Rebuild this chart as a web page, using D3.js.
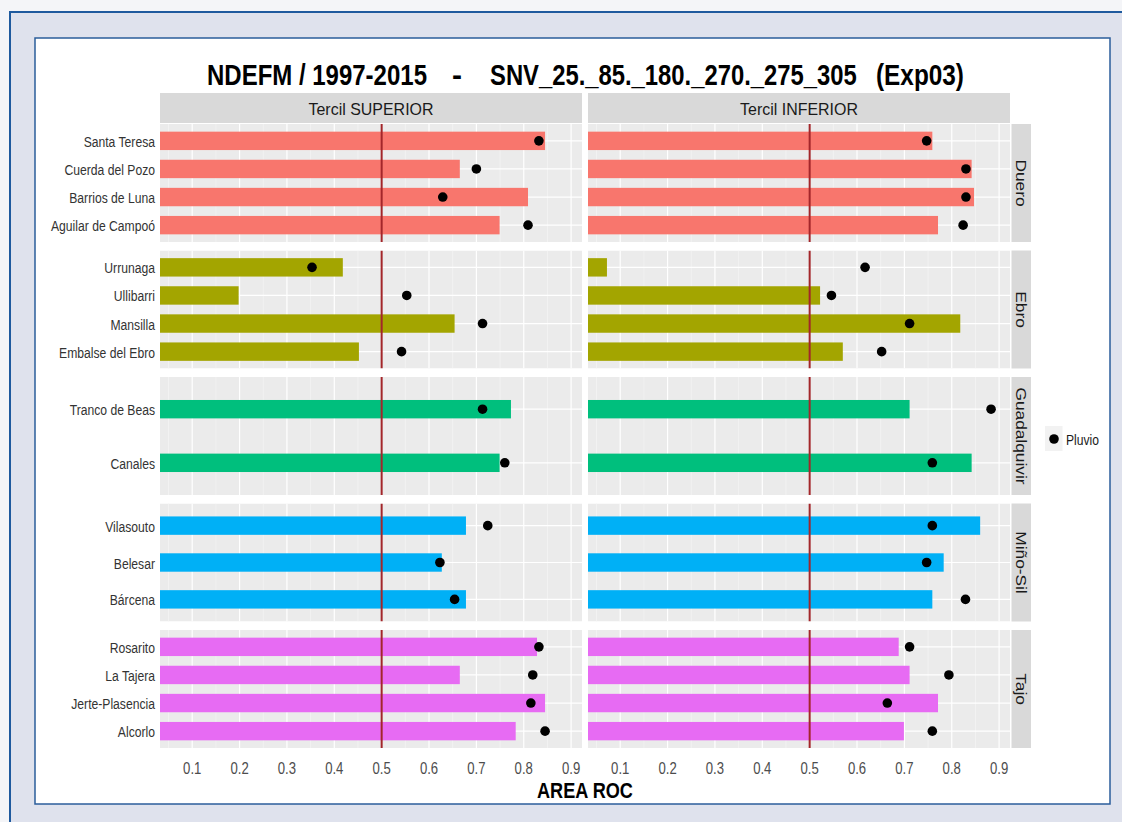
<!DOCTYPE html>
<html>
<head>
<meta charset="utf-8">
<script src="https://cdn.jsdelivr.net/npm/d3@7"></script>
<style>
  body { margin: 0; background: #fff; }
  svg text { font-family: "Liberation Sans", Arial, sans-serif; }
</style>
</head>
<body>
<svg id="chart" width="1122" height="822"></svg>
<script>
// ---- data ----
const basins = ['Duero', 'Ebro', 'Guadalquivir', 'Miño-Sil', 'Tajo']
const terciles = ['Tercil SUPERIOR', 'Tercil INFERIOR']
const stations = ['Santa Teresa', 'Cuerda del Pozo', 'Barrios de Luna', 'Aguilar de Campoó',
  'Urrunaga', 'Ullibarri', 'Mansilla', 'Embalse del Ebro',
  'Tranco de Beas', 'Canales',
  'Vilasouto', 'Belesar', 'Bárcena',
  'Rosarito', 'La Tajera', 'Jerte-Plasencia', 'Alcorlo']
const stationBasin = ['Duero', 'Duero', 'Duero', 'Duero',
  'Ebro', 'Ebro', 'Ebro', 'Ebro',
  'Guadalquivir', 'Guadalquivir',
  'Miño-Sil', 'Miño-Sil', 'Miño-Sil',
  'Tajo', 'Tajo', 'Tajo', 'Tajo']
// AREA ROC of the model (bars) and of the rain gauge "Pluvio" (dots)
const rocSup = [0.845, 0.665, 0.809, 0.749, 0.418, 0.198, 0.654, 0.452, 0.773, 0.749, 0.678, 0.627, 0.678, 0.828, 0.665, 0.845, 0.783]
const pluvioSup = [0.832, 0.700, 0.629, 0.809, 0.353, 0.553, 0.713, 0.542, 0.713, 0.760, 0.724, 0.623, 0.654, 0.832, 0.819, 0.815, 0.845]
const rocInf = [0.759, 0.842, 0.847, 0.771, 0.072, 0.522, 0.818, 0.570, 0.711, 0.842, 0.860, 0.783, 0.759, 0.688, 0.711, 0.771, 0.699]
const pluvioInf = [0.747, 0.830, 0.830, 0.824, 0.617, 0.546, 0.711, 0.652, 0.883, 0.759, 0.759, 0.747, 0.829, 0.711, 0.794, 0.664, 0.759]
const xTicks = [0.1, 0.2, 0.3, 0.4, 0.5, 0.6, 0.7, 0.8, 0.9]
const xMinor = [0.05, 0.15, 0.25, 0.35, 0.45, 0.55, 0.65, 0.75, 0.85]
const basinColors = ['#F8766D', '#A3A500', '#00BF7D', '#00B0F6', '#E76BF3']
const titleParts = ['NDEFM / 1997-2015', '-', 'SNV_25._85._180._270._275_305', '(Exp03)']

const svg = d3.select('#chart')

//squeeze a text selection horizontally, like a narrow font
function condense(sel, k) {
  sel.each(function () {
    let w = this.getComputedTextLength()
    d3.select(this).attr('textLength', w * k).attr('lengthAdjust', 'spacingAndGlyphs')
  })
}
function fitWidth(sel, target) {
  let w = sel.node().getComputedTextLength()
  sel.attr('textLength', target).attr('lengthAdjust', 'spacingAndGlyphs')
  return target / w
}
//narrow text made by shrinking the font and stretching it back up
function narrowText(parent, str, x, y, size, width, weight) {
  let t = parent.append('text')
    .attr('dominant-baseline', 'central')
    .attr('font-size', size).attr('font-weight', weight).attr('fill', '#000')
    .text(str)
  let w = t.node().getComputedTextLength()
  let s = size * width / w
  t.attr('font-size', s)
    .attr('transform', 'translate(' + x + ',' + y + ') scale(1,' + (size / s) + ')')
  return t
}

// page frame
svg.append('rect').attr('x', 0).attr('y', 0).attr('width', 1122).attr('height', 822).attr('fill', '#f4f5f8')
svg.append('rect').attr('x', 10).attr('y', 12).attr('width', 1130).attr('height', 830)
  .attr('fill', '#dfe2ed').attr('stroke', '#1f5a9e').attr('stroke-width', 2)
svg.append('rect').attr('x', 35).attr('y', 38).attr('width', 1075).attr('height', 766)
  .attr('fill', '#ffffff').attr('stroke', '#2b5d9b').attr('stroke-width', 1.5)

// layout
const panelX = [[160, 582], [588, 1010]]
const panelTop = 124, panelH = 118, panelGap = 8.5
const stripTop = 93, stripH = 30
const stripRight = [1011.5, 1031]
const domain = [0.032, 0.923]

const color = d3.scaleOrdinal().domain(basins).range(basinColors)

const rows = stations.map((s, i) => ({
  name: s, basin: stationBasin[i],
  vals: [rocSup[i], rocInf[i]], pluvio: [pluvioSup[i], pluvioInf[i]]
}))

const defs = svg.append('defs')
const plotLayer = svg.append('g')
const yLabels = svg.append('g')
const stripLabels = svg.append('g')
const xLabels = svg.append('g')

terciles.forEach(function (terc, c) {
  let x = d3.scaleLinear().domain(domain).range(panelX[c])

  // top strip
  plotLayer.append('rect')
    .attr('x', panelX[c][0]).attr('y', stripTop)
    .attr('width', panelX[c][1] - panelX[c][0]).attr('height', stripH)
    .attr('fill', '#d9d9d9')
  stripLabels.append('text')
    .attr('class', 'tstrip')
    .attr('x', (panelX[c][0] + panelX[c][1]) / 2).attr('y', stripTop + stripH / 2 + 1)
    .attr('text-anchor', 'middle').attr('dominant-baseline', 'central')
    .attr('font-size', 17).attr('fill', '#1a1a1a')
    .text(terc)

  basins.forEach(function (b, r) {
    let top = panelTop + r * (panelH + panelGap)
    let sub = rows.filter(d => d.basin == b)
    let y = d3.scalePoint().domain(sub.map(d => d.name)).range([top, top + panelH]).padding(0.6)

    let clipId = 'clip' + c + '_' + r
    defs.append('clipPath').attr('id', clipId)
      .append('rect').attr('x', panelX[c][0]).attr('y', top)
      .attr('width', panelX[c][1] - panelX[c][0]).attr('height', panelH)

    let g = plotLayer.append('g').attr('clip-path', 'url(#' + clipId + ')')

    g.append('rect')
      .attr('x', panelX[c][0]).attr('y', top)
      .attr('width', panelX[c][1] - panelX[c][0]).attr('height', panelH)
      .attr('fill', '#ebebeb')

    // grid
    g.selectAll('.minor').data(xMinor).enter().append('line')
      .attr('x1', d => x(d)).attr('x2', d => x(d)).attr('y1', top).attr('y2', top + panelH)
      .attr('stroke', '#f7f7f7').attr('stroke-width', 0.6)
    g.selectAll('.major').data(xTicks).enter().append('line')
      .attr('x1', d => x(d)).attr('x2', d => x(d)).attr('y1', top).attr('y2', top + panelH)
      .attr('stroke', '#ffffff').attr('stroke-width', 1.2)
    g.selectAll('.hgrid').data(sub).enter().append('line')
      .attr('x1', panelX[c][0]).attr('x2', panelX[c][1])
      .attr('y1', d => y(d.name)).attr('y2', d => y(d.name))
      .attr('stroke', '#ffffff').attr('stroke-width', 1.2)

    // bars
    g.selectAll('.bar').data(sub).enter().append('rect')
      .attr('x', x(0))
      .attr('y', d => y(d.name) - 9.2)
      .attr('width', d => x(d.vals[c]) - x(0))
      .attr('height', 18.4)
      .attr('fill', color(b))

    // reference line at 0.5
    g.append('line')
      .attr('x1', x(0.5)).attr('x2', x(0.5)).attr('y1', top).attr('y2', top + panelH)
      .attr('stroke', '#a3262a').attr('stroke-width', 2)

    // Pluvio points
    g.selectAll('.pt').data(sub).enter().append('circle')
      .attr('cx', d => x(d.pluvio[c])).attr('cy', d => y(d.name))
      .attr('r', 4.8).attr('fill', '#000')

    if (c == 0) {
      yLabels.selectAll('.ylab' + r).data(sub).enter().append('text')
        .attr('class', 'ylab' + r)
        .attr('x', 155).attr('y', d => y(d.name) + 1)
        .attr('text-anchor', 'end').attr('dominant-baseline', 'central')
        .attr('font-size', 14).attr('fill', '#333333')
        .text(d => d.name)
    } else {
      // right strip
      plotLayer.append('rect')
        .attr('x', stripRight[0]).attr('y', top)
        .attr('width', stripRight[1] - stripRight[0]).attr('height', panelH)
        .attr('fill', '#d9d9d9')
      stripLabels.append('text')
        .attr('class', 'rstrip')
        .attr('transform', 'translate(' + (stripRight[0] + stripRight[1]) / 2 + ',' + (top + panelH / 2) + ') rotate(90)')
        .attr('text-anchor', 'middle').attr('dominant-baseline', 'central')
        .attr('font-size', 14).attr('fill', '#1a1a1a')
        .text(b)
    }
  })

  // x axis labels
  xLabels.selectAll('.xt' + c).data(xTicks).enter().append('text')
    .attr('x', d => x(d)).attr('y', 768)
    .attr('text-anchor', 'middle').attr('dominant-baseline', 'central')
    .attr('font-size', 16).attr('fill', '#4d4d4d')
    .text(d => d3.format('.1f')(d))
})

// narrow look of the original font
let ref = yLabels.selectAll('text').filter(d => d.name == 'Aguilar de Campoó')
let kY = 104 / ref.node().getComputedTextLength()
condense(yLabels.selectAll('text'), kY)
condense(xLabels.selectAll('text'), 0.82)
let kS = 125 / stripLabels.select('.tstrip').node().getComputedTextLength()
condense(stripLabels.selectAll('.tstrip'), kS)
let gq = stripLabels.selectAll('.rstrip').filter(function () { return d3.select(this).text() == 'Guadalquivir' })
let kR = 97 / gq.node().getComputedTextLength()
condense(stripLabels.selectAll('.rstrip'), kR)

// title in pieces, as spaced in the original
const titleX = [207, 452, 490, 876]
const titleW = [220, 10, 367, 88]
titleParts.forEach(function (t, i) {
  narrowText(svg, t, titleX[i], 75, 29, titleW[i], 'bold')
})

narrowText(svg, 'AREA ROC', 537, 790, 22, 96, 'bold')

// legend
svg.append('rect').attr('x', 1045).attr('y', 426).attr('width', 17.5).attr('height', 25).attr('fill', '#f2f2f2')
svg.append('circle').attr('cx', 1054).attr('cy', 439).attr('r', 4.8).attr('fill', '#000')
let leg = svg.append('text').attr('x', 1066).attr('y', 440)
  .attr('dominant-baseline', 'central').attr('font-size', 14).attr('fill', '#1a1a1a')
  .text('Pluvio')
fitWidth(leg, 33)
</script>
</body>
</html>
